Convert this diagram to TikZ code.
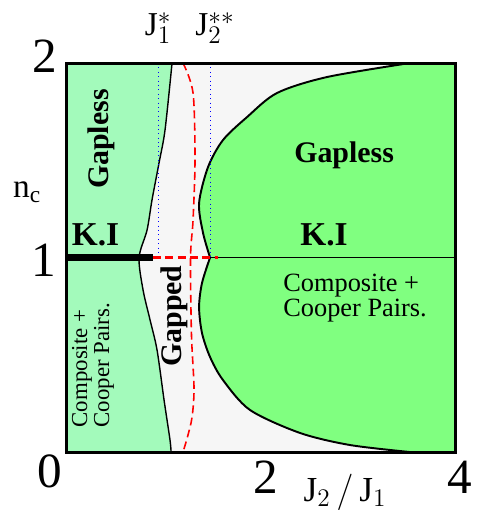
\documentclass[tikz,border=0pt]{standalone}
\usepackage{fontspec}
\setmainfont{Liberation Serif}
\usetikzlibrary{calc}
\definecolor{gaplessL}{RGB}{163,250,187}
\definecolor{gaplessR}{RGB}{128,255,128}
\definecolor{gapped}{RGB}{246,246,246}
\tikzset{tick/.style={font=\fontsize{28}{28}\selectfont,inner sep=0pt},
  phase/.style={font=\bfseries\fontsize{17}{17}\selectfont,inner sep=0pt},
  ki/.style={font=\bfseries\fontsize{19}{19}\selectfont,inner sep=0pt},
  pairs/.style={align=left,inner sep=0pt},
  crit label/.style={font=\fontsize{19}{19}\selectfont,inner sep=0pt,anchor=base},
  edge/.style={line width=1.1pt},
  crit/.style={blue,dotted,line width=.5pt},
  redline/.style={red,dash pattern=on 4.5pt off 2.5pt,line width=.9pt}}

\begin{document}
\begin{tikzpicture}[x=1.945cm,y=3.89cm]
\useasboundingbox (-0.679,-0.298) rectangle (4.237,2.324);
\fill[gapped] (0,0) rectangle (4,2);
% left region
\draw[fill=gaplessL,line width=.8pt] (0,2) -- plot[smooth] coordinates {(1.090,2) (1.018,1.656) (0.956,1.486) (0.884,1.296) (0.833,1.141) (0.751,1.0) (0.792,0.833) (0.864,0.679) (0.936,0.524) (1.008,0.267) (1.069,0.062) (1.080,0)} -- (0,0) -- cycle;
% right region, two lobes
\draw[fill=gaplessR,edge] (4,2) -- plot[smooth] coordinates {(3.537,2) (2.684,1.928) (2.170,1.846) (1.861,1.722) (1.614,1.604) (1.460,1.465) (1.368,1.280) (1.409,1.126) (1.481,1.0)}
  -- plot[smooth] coordinates {(1.481,1.0) (1.398,0.869) (1.368,0.745) (1.398,0.612) (1.481,0.488) (1.614,0.370) (1.892,0.216) (2.406,0.098) (2.920,0.036) (3.537,0)} -- (4,0) -- cycle;
\foreach \x in {0.946,1.481}{\draw[crit] (\x,2) -- (\x,1);}
\draw[redline] plot[smooth] coordinates {(1.203,2) (1.306,1.846) (1.326,1.501) (1.306,1.193) (1.280,1.0) (1.290,0.6) (1.316,0.33) (1.296,0.18) (1.250,0.08) (1.203,0)};
\draw[line width=.6pt] (1.481,1) -- (4,1);
\draw[redline,line width=1.4pt] (0.895,1) -- (1.563,1);
\draw[line width=4.5pt] (0,1) -- (0.895,1);
\draw[line width=1.7pt] (0,0) rectangle (4,2);
% axes
\node[tick] (y2) at (-0.216,2.033) {2};
\node[tick] (y1) at (-0.226,0.987) {1};
\node[tick] (x0) at (-0.165,-0.098) {0};
\foreach \x in {2,4}{\node[tick] (x\x) at (\x+0.05,-0.129) {\x};}
\node[font=\fontsize{20}{20}\selectfont] (xlab) at (2.869,-0.206) {$\mathrm{J}_2\,/\,\mathrm{J}_1$};
\node[font=\fontsize{19}{19}\selectfont] (ylab) at (-0.401,1.337) {$\mathrm{n}_\mathrm{c}$};
\node[crit label] (j1) at (0.946,2.140) {$\mathrm{J}_1^*$};
\node[crit label] (j2) at (1.532,2.140) {$\mathrm{J}_2^{**}$};
% phases
\node[phase,rotate=90] (gapL) at (0.360,1.609) {Gapless};
\node[ki] (kiL) at (0.303,1.116) {K.I};
\node[pairs,rotate=90,font=\fontsize{13}{12.5}\selectfont] (pairL) at (0.278,0.447) {Composite +\\Cooper Pairs.};
\node[phase,rotate=90] (gapM) at (1.110,0.699) {Gapped};
\node[phase] (gapR) at (2.859,1.527) {Gapless};
\node[ki] (kiR) at (2.653,1.116) {K.I};
\node[pairs,font=\fontsize{15}{12.8}\selectfont] (pairR) at (2.972,0.792) {Composite +\\Cooper Pairs.};
\end{tikzpicture}
\end{document}
